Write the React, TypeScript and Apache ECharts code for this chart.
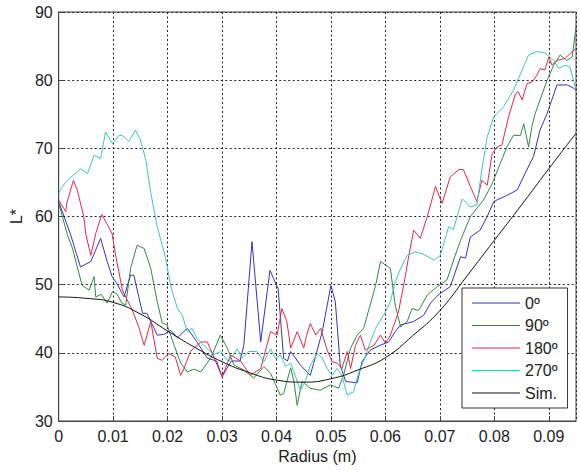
import React, { useEffect, useRef } from "react";
import * as echarts from "echarts";

const seriesNames = ["0º", "90º", "180º", "270º", "Sim."];
const seriesColors = ["#3232c4", "#2f8a3c", "#e0284a", "#3cc8b0", "#111111"];

const xTicks = { min: 0, max: 0.095, interval: 0.01 };
const yTicks = { min: 30, max: 90, interval: 10 };

const blue0: [number, number][] = [
  [0, 62.2], [0.0022, 57.3], [0.004, 52.6], [0.0059, 53.4], [0.0077, 56.8], [0.0089, 53.4], [0.0098, 51.2],
  [0.0108, 50], [0.012, 48.2], [0.0132, 51.4], [0.0138, 51.4], [0.0154, 45.8], [0.0162, 45.8], [0.0181, 42.6],
  [0.0193, 42.7], [0.0206, 43.3], [0.0218, 42.2], [0.0236, 43.6], [0.0254, 41.6], [0.0273, 39.2], [0.029, 38.8],
  [0.03, 36.5], [0.0317, 38.8], [0.0333, 38.8], [0.034, 41.1], [0.0355, 56.3], [0.0371, 41.6], [0.0388, 52.1],
  [0.0403, 49.4], [0.0413, 39.2], [0.042, 38.8], [0.0426, 40.2], [0.0444, 38.2], [0.0462, 36.7], [0.0468, 38.4],
  [0.0484, 43.1], [0.05, 49.9], [0.0508, 47.5], [0.0517, 38.2], [0.0527, 35.8], [0.0548, 35.6], [0.0557, 38.7],
  [0.0572, 40.4], [0.059, 41.1], [0.0606, 41.6], [0.0618, 43.1], [0.0628, 44.1], [0.0652, 44.6], [0.067, 45.5],
  [0.0683, 47.3], [0.0697, 48.5], [0.0719, 49.7], [0.0738, 54.1], [0.0747, 53.9], [0.0756, 57], [0.0774, 58],
  [0.0787, 60], [0.0799, 62.2], [0.0823, 63.1], [0.0842, 63.9], [0.0857, 66.4], [0.0872, 68.8], [0.0884, 72.7],
  [0.0897, 75.1], [0.0915, 79.3], [0.0934, 79.3], [0.0946, 78.8], [0.095, 78.5],
];

const green90: [number, number][] = [
  [0, 62], [0.0016, 57.3], [0.0025, 55.4], [0.0037, 51.7], [0.0043, 49.9], [0.0056, 49.2], [0.0065, 51.2],
  [0.0068, 48.2], [0.0078, 48.6], [0.0089, 47.3], [0.0099, 49], [0.0107, 48.6], [0.0116, 47.3], [0.0123, 47],
  [0.0132, 52.4], [0.0144, 55.8], [0.0157, 55.3], [0.0169, 52.4], [0.0181, 47.5], [0.019, 44.4], [0.0199, 44.1],
  [0.0212, 41.1], [0.0224, 38.5], [0.0236, 37.2], [0.0248, 37.6], [0.0261, 37.2], [0.0279, 39.2], [0.0297, 42.6],
  [0.031, 40.6], [0.0322, 38.2], [0.034, 37.5], [0.0358, 36.3], [0.0377, 38], [0.0389, 37], [0.0407, 33.8],
  [0.0413, 34], [0.0426, 37.8], [0.0432, 35.8], [0.0438, 32.3], [0.0447, 35.8], [0.0462, 34.8], [0.048, 34.5],
  [0.0499, 35.3], [0.0514, 34.8], [0.0523, 36.7], [0.0536, 40.7], [0.0548, 42.6], [0.056, 43.6], [0.0572, 47],
  [0.0582, 49.9], [0.0591, 53.4], [0.06, 52.9], [0.0609, 52.4], [0.0618, 47], [0.0628, 43.8], [0.064, 44.6],
  [0.0649, 46.5], [0.0661, 46.2], [0.0677, 48.5], [0.0695, 49.7], [0.0713, 50.7], [0.0726, 53.8], [0.0738, 56.5],
  [0.0756, 60], [0.078, 62.4], [0.0796, 64.8], [0.0811, 67.8], [0.0823, 70.2], [0.0835, 71.9], [0.0848, 71.9],
  [0.0854, 73.6], [0.0863, 70.2], [0.0869, 73.2], [0.0875, 75.1], [0.0884, 77.1], [0.0897, 80], [0.0909, 82.2],
  [0.0921, 83.7], [0.0933, 82.9], [0.0943, 83.4], [0.095, 87.8],
];

const red180: [number, number][] = [
  [0, 62.4], [0.0013, 60.7], [0.0015, 62], [0.0027, 65.3], [0.0034, 63.9], [0.0046, 60], [0.005, 57.3],
  [0.0059, 54.3], [0.0068, 57.5], [0.0079, 60.3], [0.0088, 59], [0.0098, 57.5], [0.0105, 54.1], [0.0117, 49.2],
  [0.0123, 48.2], [0.0135, 46.3], [0.0147, 43.8], [0.0157, 41.1], [0.0169, 44.6], [0.0181, 39.2], [0.019, 38.9],
  [0.0202, 39.9], [0.0214, 39.4], [0.0224, 36.7], [0.023, 37.7], [0.0242, 40.2], [0.0261, 41.6], [0.0273, 41.6],
  [0.0291, 38.2], [0.03, 36.5], [0.0316, 39.7], [0.0334, 38.8], [0.0352, 36.7], [0.0371, 37.7], [0.0389, 43.1],
  [0.0401, 42.6], [0.041, 46.5], [0.0419, 44.6], [0.0426, 40.7], [0.0438, 43.1], [0.045, 40.7], [0.0455, 42.5],
  [0.0462, 44.3], [0.0472, 42.6], [0.0481, 43.6], [0.0493, 40.4], [0.0502, 38.7], [0.0511, 38.5], [0.052, 37.7],
  [0.053, 40.2], [0.0536, 37.7], [0.0545, 41.1], [0.0554, 42.6], [0.0563, 40.4], [0.0579, 41.1], [0.0591, 42.6],
  [0.06, 41.4], [0.0609, 42.6], [0.0618, 44.6], [0.0624, 46], [0.0637, 51.4], [0.0643, 54.3], [0.0652, 58],
  [0.0664, 56.8], [0.0677, 60], [0.0692, 64.4], [0.0704, 61.9], [0.0719, 65.8], [0.0735, 66.9], [0.0743, 66.9],
  [0.0756, 64.4], [0.0768, 62.2], [0.0777, 65.3], [0.0787, 64.6], [0.0796, 69.2], [0.0805, 70.2], [0.0814, 70.5],
  [0.0826, 74.6], [0.0839, 78], [0.0844, 78.3], [0.0851, 77.1], [0.086, 79.5], [0.0869, 79.7], [0.0878, 80.7],
  [0.0884, 81.7], [0.0893, 81.5], [0.09, 83.4], [0.0906, 82.2], [0.0915, 82.9], [0.093, 83.2], [0.0939, 83.9],
  [0.0946, 84.4], [0.095, 84.6],
];

const cyan270: [number, number][] = [
  [0, 63.4], [0.0007, 64.4], [0.0016, 65.3], [0.004, 67], [0.0053, 66.3], [0.0065, 69], [0.0077, 68.5],
  [0.0086, 72.4], [0.0099, 70.7], [0.0111, 71.9], [0.0117, 71.9], [0.0129, 71], [0.0141, 72.7], [0.015, 71.2],
  [0.016, 68.3], [0.0169, 63.5], [0.0181, 58.5], [0.0196, 54], [0.0206, 49.7], [0.0218, 46.5], [0.0227, 45.5],
  [0.0236, 43.1], [0.0245, 43.6], [0.0254, 42.1], [0.0273, 40.6], [0.0285, 39.7], [0.0297, 40.2], [0.0312, 38.7],
  [0.0328, 40.6], [0.0337, 39.2], [0.0349, 40.2], [0.0364, 40.2], [0.0377, 38.7], [0.0389, 40.6], [0.0398, 39.2],
  [0.0407, 39.7], [0.0417, 38], [0.0426, 38.5], [0.0432, 37.2], [0.0444, 34.5], [0.0453, 35.8], [0.0462, 38.2],
  [0.0475, 39.9], [0.0484, 39.2], [0.0493, 37.7], [0.0502, 36.7], [0.0511, 37.7], [0.052, 36.7], [0.053, 33.8],
  [0.0542, 34.3], [0.0548, 36.3], [0.0554, 37.7], [0.0563, 39.4], [0.0572, 41.6], [0.0582, 43.6], [0.0591, 44.8],
  [0.06, 46], [0.0609, 47.5], [0.0618, 50.4], [0.0628, 52.4], [0.064, 54.3], [0.0655, 54.8], [0.0669, 54.5],
  [0.0689, 53.6], [0.0701, 54.3], [0.0716, 58.5], [0.0725, 58.1], [0.0741, 62.6], [0.0756, 61.4], [0.0768, 61.7],
  [0.0777, 66.8], [0.0787, 71.7], [0.0799, 74.6], [0.0817, 76.1], [0.0835, 78.5], [0.0851, 81.5], [0.0863, 83.7],
  [0.0878, 84.2], [0.0893, 84], [0.0909, 82.9], [0.0918, 81.7], [0.093, 82.2], [0.0939, 81.9], [0.0949, 78.8],
];

const simCurve: [number, number][] = [
  [0, 48.2], [0.005, 48], [0.01, 47.4], [0.015, 45.7], [0.02, 43.2], [0.025, 40.8], [0.03, 38.7], [0.035, 37.1],
  [0.04, 36], [0.045, 35.7], [0.05, 36.2], [0.055, 37.5], [0.06, 39.3], [0.065, 42.5], [0.07, 46.2],
  [0.075, 51.3], [0.08, 56.5], [0.085, 61.7], [0.09, 67], [0.095, 72.2],
];

const allSeries = [blue0, green90, red180, cyan270, simCurve];

export default function App() {
  const ref = useRef<HTMLDivElement>(null);
  useEffect(() => {
    document.body.style.margin = "0";
    if (!ref.current) return;
    const chart = echarts.init(ref.current, undefined, { renderer: "svg" });
    const font = "'Liberation Sans', Arial, Helvetica, sans-serif";
    chart.setOption({
      animation: false,
      backgroundColor: "#ffffff",
      textStyle: { fontFamily: font },
      grid: {
        left: 58,
        top: 12,
        right: 4,
        bottom: 49,
        show: true,
        borderColor: "#444",
        borderWidth: 1,
        backgroundColor: "transparent",
      },
      legend: {
        orient: "vertical",
        left: 462,
        top: 288,
        padding: [7, 10, 7, 10],
        icon: "rect",
        itemWidth: 48,
        itemHeight: 1,
        itemGap: 6.5,
        backgroundColor: "#fff",
        borderColor: "#333",
        borderWidth: 1,
        borderRadius: 0,
        textStyle: { fontFamily: font, fontSize: 16, color: "#222", lineHeight: 16 },
        data: seriesNames,
      },
      xAxis: {
        type: "value",
        min: xTicks.min,
        max: xTicks.max,
        interval: xTicks.interval,
        name: "Radius (m)",
        nameLocation: "middle",
        nameGap: 26,
        nameTextStyle: { fontFamily: font, fontSize: 16, color: "#222" },
        axisLine: { show: true, lineStyle: { color: "#444" } },
        axisTick: { show: true, inside: true, length: 5, lineStyle: { color: "#444" } },
        axisLabel: {
          fontFamily: font,
          fontSize: 16,
          color: "#222",
          margin: 7,
          showMaxLabel: false,
          formatter: (v: number) => String(+v.toFixed(3)),
        },
        splitLine: { show: true, lineStyle: { color: "#222", type: [2, 2.5], width: 1 } },
      },
      yAxis: {
        type: "value",
        min: yTicks.min,
        max: yTicks.max,
        interval: yTicks.interval,
        name: "L*",
        nameLocation: "middle",
        nameGap: 30,
        nameTextStyle: { fontFamily: font, fontSize: 16, color: "#222" },
        axisLine: { show: true, lineStyle: { color: "#444" } },
        axisTick: { show: true, inside: true, length: 5, lineStyle: { color: "#444" } },
        axisLabel: { fontFamily: font, fontSize: 16, color: "#222", margin: 6 },
        splitLine: { show: true, lineStyle: { color: "#222", type: [2, 2.5], width: 1 } },
      },
      series: allSeries.map((d, i) => ({
        name: seriesNames[i],
        type: "line",
        data: d,
        symbol: "none",
        showSymbol: false,
        smooth: i === 4,
        color: seriesColors[i],
        itemStyle: { color: seriesColors[i] },
        lineStyle: { color: seriesColors[i], width: 1 },
      })),
    });
    return () => chart.dispose();
  }, []);
  return <div ref={ref} style={{ width: 580, height: 470 }} />;
}
